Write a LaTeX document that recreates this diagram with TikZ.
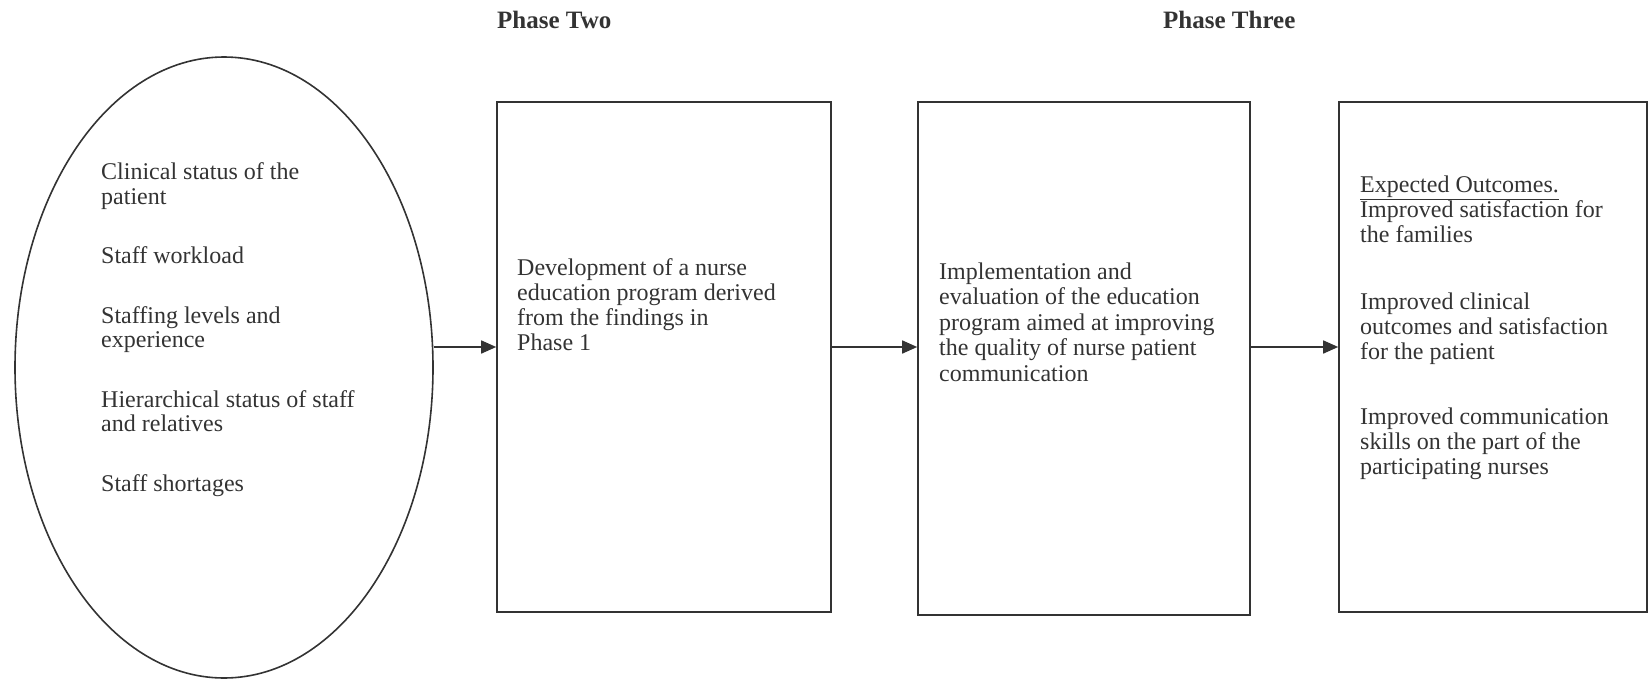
\documentclass[tikz,border=0pt]{standalone}
\usepackage{fontspec}
\setmainfont{Liberation Serif}
\usetikzlibrary{shapes.geometric,arrows.meta}
\definecolor{ink}{HTML}{333333}

\begin{document}
\begin{tikzpicture}[x=1pt,y=-1pt,
		box/.style={draw=ink, line width=1.6pt, rectangle, inner sep=0pt},
		flow/.style={draw=ink, line width=1.6pt, -{Triangle[length=15pt,width=13pt]}},
		txt/.style={anchor=north west, inner sep=0pt, align=left, text=ink, font=\fontsize{24}{25}\selectfont},
		head/.style={anchor=north west, inner sep=0pt, text=ink, font=\fontsize{25}{27}\selectfont\bfseries}]
			%%%%% START %%%%%
			\useasboundingbox (0,0) rectangle (1649,680);
			
			\node[head] (phtwo) at (497, 10.5) {Phase Two};
			\node[head] (phthree) at (1163, 10.5) {Phase Three};
			
			% influencing factors
			\node[draw=ink, line width=1.6pt, ellipse, inner sep=0pt,
				minimum width=418pt, minimum height=621pt] (factors) at (224, 367.5) {};
			\node[txt, font=\fontsize{24}{24.5}\selectfont] (factorstxt) at (101, 162.5) {Clinical status of the\\ patient\\[35pt]
				Staff workload\\[35pt]
				Staffing levels and\\ experience\\[35pt]
				Hierarchical status of staff\\ and relatives\\[35pt]
				Staff shortages};
			
			% the three boxes
			\node[box, minimum width=334pt, minimum height=510pt] (develop) at (664, 357) {};
			\node[box, minimum width=332pt, minimum height=513pt] (implement) at (1084, 358.5) {};
			\node[box, minimum width=308pt, minimum height=510pt] (outcomes) at (1493, 357) {};
			
			\node[txt] (developtxt) at (517, 258.5) {Development of a nurse\\ education program derived\\ from the findings in\\ Phase 1};
			\node[txt, font=\fontsize{24}{25.5}\selectfont] (implementtxt) at (939, 262.5) {Implementation and\\ evaluation of the education\\ program aimed at improving\\ the quality of nurse patient\\ communication};
			\node[txt] (outcomestxt) at (1360, 175.5) {\underline{Expected Outcomes.}\\ Improved satisfaction for\\ the families\\[42pt]
				Improved clinical\\ outcomes and satisfaction\\ for the patient\\[40pt]
				Improved communication\\ skills on the part of the\\ participating nurses};
			
			% arrows
			\coordinate (lane) at (0, 347);
			\draw[flow] (factors.east |- lane) -- (develop.west |- lane);
			\draw[flow] (develop.east |- lane) -- (implement.west |- lane);
			\draw[flow] (implement.east |- lane) -- (outcomes.west |- lane);
			
			%%%%% END %%%%%
\end{tikzpicture}
\end{document}
